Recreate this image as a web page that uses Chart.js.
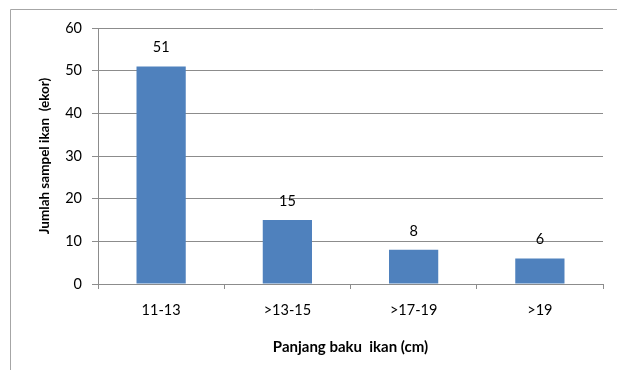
<!DOCTYPE html>
<html>
<head>
<meta charset="utf-8">
<script src="https://cdn.jsdelivr.net/npm/chart.js@4"></script>
<style>
    html, body { margin: 0; padding: 0; background: #fff; }
    #wrap { width: 617px; height: 370px; }
</style>
</head>
<body>
<div id="wrap"><canvas id="lengthChart" width="617" height="370"></canvas></div>
<script>
// Chart values
const categories = ['11-13', '>13-15', '>17-19', '>19'];
const counts = [51, 15, 8, 6];
const yTicks = [0, 10, 20, 30, 40, 50, 60];

const fontName = "Lato, 'Open Sans', sans-serif";
const gridGray = '#8c8c8c';

// Draws value labels above each bar
const valueLabels = {
    id: 'valueLabels',
    afterDatasetsDraw(chart) {
        const ctx = chart.ctx;
        const meta = chart.getDatasetMeta(0);
        ctx.save();
        ctx.font = "14.5px " + fontName;
        ctx.fillStyle = '#000';
        ctx.textAlign = 'center';
        ctx.textBaseline = 'middle';
        meta.data.forEach((bar, i) => {
            ctx.fillText(String(counts[i]), bar.x, bar.y - 19);
        });
        ctx.restore();
    }
};

// Outer frame of the chart object (top and left edges visible)
const outerFrame = {
    id: 'outerFrame',
    afterDraw(chart) {
        const ctx = chart.ctx;
        ctx.save();
        ctx.strokeStyle = '#a6a6a6';
        ctx.lineWidth = 1;
        ctx.beginPath();
        ctx.moveTo(10.5, 370);
        ctx.lineTo(10.5, 9.5);
        ctx.lineTo(617, 9.5);
        ctx.stroke();
        ctx.restore();
    }
};

function initializeChart() {
    const canvas = document.getElementById('lengthChart');
    const ctx = canvas.getContext('2d');
    new Chart(ctx, {
        type: 'bar',
        data: {
            labels: categories,
            datasets: [{
                data: counts,
                backgroundColor: '#4f81bd',
                borderWidth: 0,
                categoryPercentage: 1,
                barPercentage: 0.39
            }]
        },
        options: {
            responsive: false,
            animation: false,
            layout: { padding: { left: 0, right: 14, top: 28, bottom: 0 } },
            plugins: {
                legend: { display: false },
                tooltip: { enabled: false }
            },
            scales: {
                x: {
                    grid: {
                        offset: true,
                        drawOnChartArea: false,
                        drawTicks: true,
                        tickLength: 5,
                        color: gridGray
                    },
                    border: { color: gridGray },
                    ticks: {
                        padding: 13,
                        color: '#000',
                        font: { family: fontName, size: 14.5 }
                    },
                    title: {
                        display: true,
                        text: 'Panjang baku  ikan (cm)',
                        color: '#000',
                        font: { family: fontName, size: 15, weight: 'bold' },
                        padding: { top: 14, bottom: 14 }
                    },
                    afterFit(scale) { scale.height = 86; }
                },
                y: {
                    min: 0,
                    max: 60,
                    afterBuildTicks(scale) {
                        scale.ticks = yTicks.map(v => ({ value: v }));
                    },
                    grid: {
                        color: gridGray,
                        tickLength: 6
                    },
                    border: { color: gridGray },
                    ticks: {
                        padding: 10,
                        color: '#000',
                        font: { family: fontName, size: 14.5 }
                    },
                    title: {
                        display: true,
                        text: 'Jumlah sampel ikan  (ekor)',
                        color: '#000',
                        font: { family: fontName, size: 13.5, weight: 'bold' },
                        padding: { top: 37, bottom: 37 }
                    },
                    afterFit(scale) { scale.width = 98; }
                }
            }
        },
        plugins: [valueLabels, outerFrame]
    });
}

document.addEventListener('DOMContentLoaded', initializeChart);
</script>
</body>
</html>
